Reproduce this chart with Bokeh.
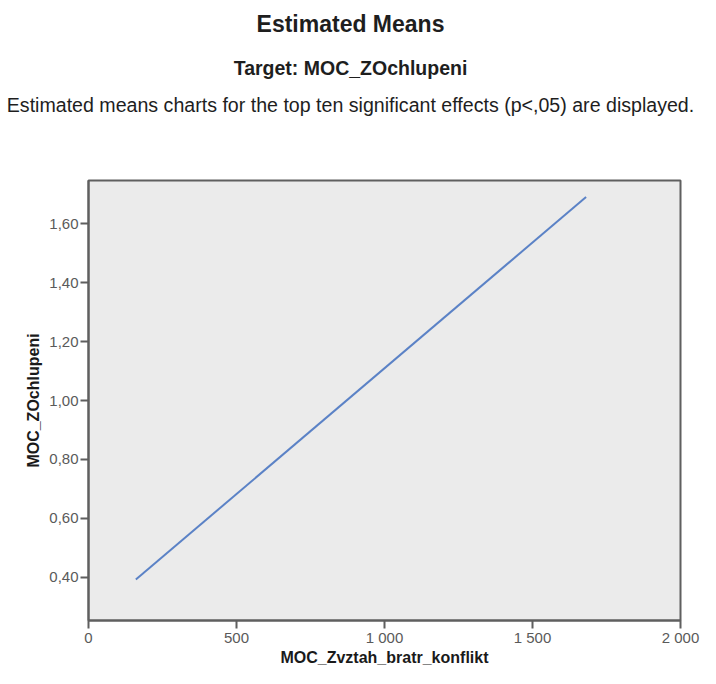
from bokeh.plotting import figure
from bokeh.layouts import column
from bokeh.models import FixedTicker, CustomJSTickFormatter, ColumnDataSource, Range1d
from bokeh.core.properties import value
from bokeh.embed import file_html
from bokeh.resources import INLINE

# ---- data ----
title_text = "Estimated Means"
target_text = "Target: MOC_ZOchlupeni"
note_text = "Estimated means charts for the top ten significant effects (p<,05) are displayed."
x_label = "MOC_Zvztah_bratr_konflikt"
y_label = "MOC_ZOchlupeni"
x_values = [160, 1681]
y_values = [0.393, 1.690]
x_ticks = [0, 500, 1000, 1500, 2000]
y_ticks = [0.4, 0.6, 0.8, 1.0, 1.2, 1.4, 1.6]

FONT = "Liberation Sans"
W = 700

# ---- header (titles) ----
HEAD_H = 176
head = figure(width=W, height=HEAD_H, output_backend="svg", toolbar_location=None,
              x_range=Range1d(0, W), y_range=Range1d(HEAD_H, 0),
              min_border=0, outline_line_color=None)
head.axis.visible = False
head.grid.visible = False
head.background_fill_color = "white"
head.border_fill_color = "white"

heads = [(title_text, 23, "23px", "bold"),
         (target_text, 67, "19.5px", "bold"),
         (note_text, 104, "19.6px", "normal")]
for txt, yy, size, style in heads:
    head.text(x=[W / 2], y=[yy], text=[txt], text_align="center", text_baseline="middle",
              text_font=value(FONT), text_font_size=size, text_font_style=style,
              text_color="#1e1e1e")

# ---- main chart ----
p = figure(width=W, height=492, output_backend="svg", toolbar_location=None,
           x_range=Range1d(0, 2000), y_range=Range1d(0.254, 1.746),
           min_border_left=88, min_border_right=20, min_border_top=4, min_border_bottom=46)
p.background_fill_color = "#ebebeb"
p.border_fill_color = "white"
p.outline_line_color = "#5f5f5f"
p.outline_line_width = 2
p.grid.visible = False

for fig in (head, p):
    if "frame_align" in fig.properties():
        fig.frame_align = False

src = ColumnDataSource(dict(x=x_values, y=y_values))
p.line("x", "y", source=src, line_color="#5b82c6", line_width=2)

for ax in (p.xaxis[0], p.yaxis[0]):
    ax.axis_line_color = "#5f5f5f"
    ax.axis_line_width = 2
    ax.major_tick_line_color = "#5f5f5f"
    ax.major_tick_line_width = 2
    ax.major_tick_out = 8
    ax.major_tick_in = 0
    ax.minor_tick_line_color = None
    ax.major_label_text_font = FONT
    ax.major_label_text_font_size = "15px"
    ax.major_label_text_color = "#5a5a5a"
    ax.axis_label_text_font = FONT
    ax.axis_label_text_font_size = "16px"
    ax.axis_label_text_font_style = "bold"
    ax.axis_label_text_color = "#1a1a1a"

p.xaxis.major_label_standoff = 0
p.yaxis.major_label_standoff = 2
p.xaxis.ticker = FixedTicker(ticks=x_ticks)
p.yaxis.ticker = FixedTicker(ticks=y_ticks)
p.xaxis.formatter = CustomJSTickFormatter(code="""
const s = Math.round(tick).toString();
return s.replace(/\\B(?=(\\d{3})+(?!\\d))/g, ' ');
""")
p.yaxis.formatter = CustomJSTickFormatter(code="return tick.toFixed(2).replace('.', ',');")
p.xaxis.axis_label = x_label
p.yaxis.axis_label = y_label
p.xaxis.axis_label_standoff = 0
p.yaxis.axis_label_standoff = 4

layout = column(head, p, spacing=0)
open("out.html", "w").write(file_html(layout, INLINE))
